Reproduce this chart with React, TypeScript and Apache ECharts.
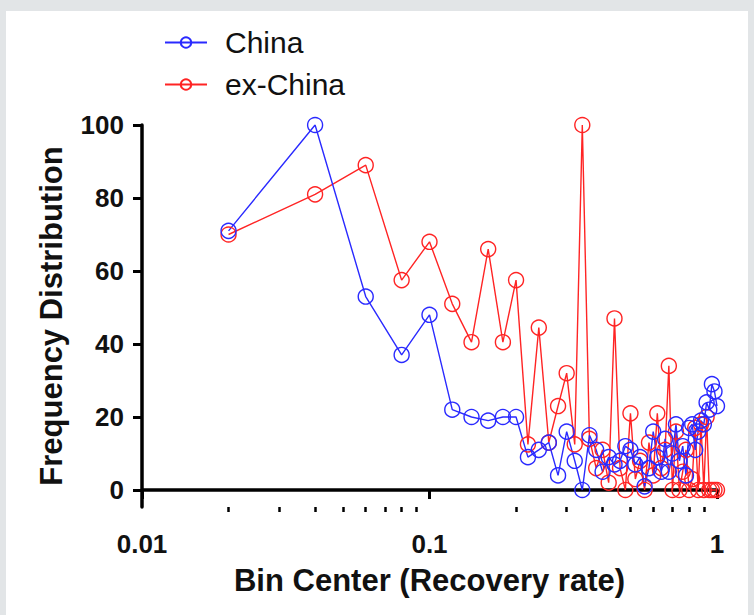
import React, { useEffect, useRef } from "react";
import * as echarts from "echarts";

const binCenters = [
  0.02, 0.04, 0.06, 0.08, 0.1, 0.12, 0.14, 0.16, 0.18, 0.2,
  0.22, 0.24, 0.26, 0.28, 0.3, 0.32, 0.34, 0.36, 0.38, 0.4,
  0.42, 0.44, 0.46, 0.48, 0.5, 0.52, 0.54, 0.56, 0.58, 0.6,
  0.62, 0.64, 0.66, 0.68, 0.7, 0.72, 0.74, 0.76, 0.78, 0.8,
  0.82, 0.84, 0.86, 0.88, 0.9, 0.92, 0.94, 0.96, 0.98, 1.0,
];

const chinaValues = [
  71, 100, 53, 37, 48, 22, 20, 19, 20, 20,
  9, 11, 13, 4, 16, 8, 0, 15, 11, 5,
  9, 7, 8, 12, 11, 7, 9, 1, 6, 16,
  9, 5, 14, 5, 10, 18, 8, 12, 4, 17,
  18, 11, 16, 19, 18, 24, 22, 29, 27, 23,
];

const exChinaValues = [
  70, 81, 89, 57.5, 68, 51, 40.5, 66, 40.5, 57.5,
  12.5, 44.5, 13, 23, 32, 12.5, 100, 14, 6, 11,
  2, 47, 6, 0, 21, 3, 8, 0, 13, 4,
  21, 6, 11, 34, 0, 16, 0, 5, 11, 0,
  3, 17, 0, 18, 0, 20, 0, 0, 0, 0,
];

const seriesNames = ["China", "ex-China"];
const yTickValues = [0, 20, 40, 60, 80, 100];
const xMajorTicks = [0.01, 0.1, 1];
const xMinorTicks = [
  0.02, 0.03, 0.04, 0.05, 0.06, 0.07, 0.08, 0.09,
  0.2, 0.3, 0.4, 0.5, 0.6, 0.7, 0.8, 0.9,
];

const BLUE = "#2a2aff";
const RED = "#ff2424";
const FONT = "'Liberation Sans', Arial, sans-serif";

export default function App() {
  const ref = useRef<HTMLDivElement>(null);

  useEffect(() => {
    document.body.style.margin = "0";
    if (!ref.current) return;
    const chart = echarts.init(ref.current, undefined, { renderer: "svg" });
    const pair = (vals: number[]) => binCenters.map((x, i) => [x, vals[i]]);

    chart.setOption({
      animation: false,
      backgroundColor: "transparent",
      textStyle: { fontFamily: FONT },
      legend: {
        data: seriesNames,
        orient: "vertical",
        left: 159,
        top: 22,
        itemWidth: 42,
        itemHeight: 13,
        itemGap: 11,
        textStyle: {
          fontFamily: FONT,
          fontSize: 30,
          color: "#111",
          lineHeight: 31,
          padding: [0, 0, 0, 13],
        },
      },
      grid: { left: 142, right: 37, top: 125, bottom: 108, containLabel: false },
      xAxis: [
        {
          type: "log",
          logBase: 10,
          min: 0.01,
          max: 1,
          position: "bottom",
          name: "Bin Center (Recovery rate)",
          nameLocation: "middle",
          nameGap: 58,
          nameTextStyle: { fontFamily: FONT, fontSize: 31, fontWeight: "bold", color: "#111" },
          axisLine: { show: true, lineStyle: { color: "#000", width: 3.5 } },
          axisTick: { show: true, customValues: xMajorTicks, length: 9, lineStyle: { color: "#000", width: 3 } },
          axisLabel: {
            show: true,
            customValues: xMajorTicks,
            margin: 24,
            fontFamily: FONT,
            fontSize: 26,
            fontWeight: "bold",
            color: "#111",
            formatter: (v: number) => (v >= 1 ? "1" : v >= 0.1 ? "0.1" : "0.01"),
          },
          splitLine: { show: false },
          minorTick: { show: false },
        },
        {
          type: "log",
          logBase: 10,
          min: 0.01,
          max: 1,
          position: "bottom",
          axisLine: { show: false },
          axisTick: { show: true, customValues: xMinorTicks, length: 5, lineStyle: { color: "#000", width: 2.5 } },
          axisLabel: { show: false },
          splitLine: { show: false },
        },
      ],
      yAxis: {
        type: "value",
        min: -4.66,
        max: 100,
        name: "Frequency Distribution",
        nameLocation: "middle",
        nameGap: 75,
        nameTextStyle: { fontFamily: FONT, fontSize: 31, fontWeight: "bold", color: "#111" },
        axisLine: { show: true, lineStyle: { color: "#000", width: 3.5 } },
        axisTick: { show: true, customValues: yTickValues, length: 9, lineStyle: { color: "#000", width: 3 } },
        axisLabel: {
          show: true,
          customValues: yTickValues,
          margin: 18,
          fontFamily: FONT,
          fontSize: 26,
          fontWeight: "bold",
          color: "#111",
        },
        splitLine: { show: false },
      },
      series: [
        {
          name: "ex-China",
          type: "line",
          xAxisIndex: 0,
          data: pair(exChinaValues),
          symbol: "circle",
          symbolSize: 15,
          color: RED,
          lineStyle: { color: RED, width: 1.4 },
          itemStyle: { color: "rgba(255,255,255,0)", borderColor: RED, borderWidth: 1.4 },
          emphasis: { disabled: true },
        },
        {
          name: "China",
          type: "line",
          xAxisIndex: 0,
          data: pair(chinaValues),
          symbol: "circle",
          symbolSize: 15,
          color: BLUE,
          lineStyle: { color: BLUE, width: 1.4 },
          itemStyle: { color: "rgba(255,255,255,0)", borderColor: BLUE, borderWidth: 1.4 },
          emphasis: { disabled: true },
        },
      ],
    });

    return () => chart.dispose();
  }, []);

  return (
    <div style={{ position: "fixed", left: 0, top: 0, width: 754, height: 615, background: "#e2e5e7" }}>
      <div style={{ position: "absolute", left: 6, top: 11, width: 742, height: 604, background: "#ffffff" }} />
      <div ref={ref} style={{ position: "absolute", left: 0, top: 0, width: 754, height: 615 }} />
    </div>
  );
}
